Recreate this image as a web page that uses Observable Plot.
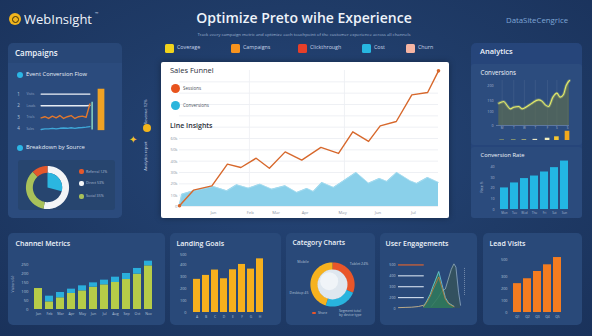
<!DOCTYPE html>
<html><head><meta charset="utf-8">
<script src="https://cdn.jsdelivr.net/npm/d3@7"></script>
<script src="https://cdn.jsdelivr.net/npm/@observablehq/plot@0.6"></script>
<style>
html,body{margin:0;padding:0;background:#1c3661;}
#app{position:relative;width:592px;height:336px;overflow:hidden;font-family:"Open Sans",sans-serif;
 background:radial-gradient(ellipse at 50% 45%,#26477b 0%,#1f3b67 55%,#1a325b 100%);}
.t{position:absolute;white-space:nowrap;line-height:1;}
</style></head><body><div id="app"></div><script>
// ================= DATA =================
const legendLabels = ["Coverage","Campaigns","Clickthrough","Cost","Churn"];
const legendColors = ["#f1d31c","#f7931e","#e63f29","#27b7e1","#f5b4a3"];

// Left: event conversion flows
const flowSteps  = [0,1,2,3,4,5,6,7,8,9,10,11,12,13];
const flowRowTicks = [4,3,2,1];
const flowRowLabels = ["1","2","3","4"];
const flowRowNames = ["Visits","Leads","Trials","Sales"];
const flowSales  = [4,4,4,4,4,4,4,4,4,4,4,4,4,4];
const flowTrials = [3,3,3,3,3,3,3,3,3,3,3,3,3,3.02];
const flowLeads  = [1.95,2.05,1.9,2.1,1.95,2.15,1.9,2.05,2.15,1.9,2.05,2.1,2.0,3.15];
const flowVisits = [0.95,1.0,1.0,1.05,1.0,1.05,1.08,1.05,1.1,1.05,1.1,1.12,1.15,1.2];
const flowSpike = {step:13.6, from:0.9, to:3.3};
const flowBar = {from:15.2, to:17, low:0.85, high:4.42};

// Left: breakdown by source
const sourceNames  = ["Direct","Social","Referral"];
const sourceShares = [53,35,12];
const sourceColors = ["#f3f5f7","#a8c15a","#e4582b"];
const sourceFocusShare = 29;

// Main chart
const sessionWeeks  = [0,5.4,12.5,18.5,23.7,29.6,34.7,40.8,47.2,54.6,61.4,66.9,73,77.5,83.7,89.7,95.8,100];
const sessionValues = [0.6,14.4,18.2,37.4,34.4,42.6,33.8,48.2,40.9,52.1,46.8,65.9,57.4,71.2,75,98.5,100.6,119.7];
const convWeeks  = [0,0.9,5.4,13.1,18.3,22.1,26.6,31.1,35.6,40.8,45.3,49.2,51.7,55,59.5,63.3,68.2,73,77.2,80.1,83.9,89.1,91.6,95.8,100];
const convValues = [2,10.9,13.8,17.6,13.8,19.1,16.2,19.7,15.3,18.2,12.4,15.9,13.2,21.2,16.8,22.6,30,20.6,24.7,22.1,30,22.6,20.3,25.6,21.2];
const mainXTicks  = [13.1,27.3,37.3,48.5,63,76.6,90.3];
const mainXLabels = ["Jan","Feb","Mar","Apr","May","Jun","Jul"];
const mainYTicks  = [0,10,20,30,40,50,60];
const mainYLabels = ["0","10k","20k","30k","40k","50k","60k"];
const mainGrid    = [0,10,20,30,40,50,60,70,80,90,100,110];
const mainVGrid   = [27,63.7];

// Right: conversions trend
const trendU = [7,22,32,42,52,67,77,92,107,127,137,147,157,170,182,192,202,210,220];
const trendV = [67,72,60,50,55,57,50,57,67,77,73,62,57,85,97,85,93,120,135];
const trendYTicks = [0,42,75,119];
const trendYLabels = ["0","100","150","200"];
const trendXTicks = [17,52,84,117,154,182,214];
const trendXLabels = ["M","T","W","T","F","S","S"];
const dayBars = [1,1,1,1.3,2.6,4.2,10.5];
const dayBarColors = ["#7d8c6c","#8c9a70","#a9ad78","#e8e6c8","#f3efc0","#f4c531","#f2a91d"];

// Right: conversion rate
const rateLabels = ["Mon","Tue","Wed","Thu","Fri","Sat","Sun"];
const rateValues = [20.3,25,29.1,31.5,35.3,39.4,45.6];
const rateTicks = [0,10,20,30,40];

// Bottom: channel metrics
const chLabels = ["Jan","Feb","Mar","Apr","May","Jun","Jul","Aug","Sep","Oct","Nov"];
const chBase = [23.3,8.5,13,17.8,20.7,24.8,27.4,30,33.3,39.3,48.5];
const chTop  = [0,6.3,5.9,4.8,5.6,4.8,5.2,5.9,6.7,6.3,5.2];
const chTicks = [0,10,20,30,40,50];
const chTickLabels = ["0","50","100","150","200","250"];

// Bottom: landing goals
const goalLabels = ["A","B","C","D","E","F","G","H"];
const goalValues = [27.8,31.1,35.6,28.3,35.8,40.3,36.4,45];
const goalTicks = [0,10,20,30,40,48];
const goalTickLabels = ["0","100","200","300","400","500"];

// Bottom: category donut
const catNames  = ["Mobile","Tablet","Desktop"];
const catShares = [31,24,45];
const catColors = ["#e9562a","#28b4de","#f6b21f"];

// Bottom: user engagements
const engLevels = [4,3,2,1];
const engLevelColors = ["#e9642c","#d5e0ee","#d5e0ee","#d5e0ee"];
const engLegendSpan = [0,39];
const engYTicks = [0,1,2,3,4];
const engYLabels = ["0","200","300","400","500"];
const engBaseT = [0,10,20,30,38];
const engBaseV = [0.08,0.1,0.12,0.18,0.3];
const engGreenT = [38,43,48,52,56,61,66,71,76,84];
const engGreenV = [0.2,0.7,1.3,2.0,2.6,3.4,2.2,1.0,0.5,0.2];
const engDarkT = [50,55,60,66,71,76,80,84,87,91,94];
const engDarkV = [0.2,0.6,1.0,1.6,1.8,2.8,3.6,4.1,3.8,1.5,0.3];
const engRightAxis = {t:100, from:1.2, to:3.7};

// Bottom: lead visits
const leadLabels = ["Q1","Q2","Q3","Q4","Q5"];
const leadValues = [24.2,28.3,34.4,40,46.1];
const leadTicks = [0,10,20,30,44];
const leadTickLabels = ["0","100","200","300","500"];

// ================= HELPERS =================
const app = document.getElementById("app");
function box(x,y,w,h,bg,r=5,extra=""){
  const d=document.createElement("div");
  d.style.cssText=`position:absolute;left:${x}px;top:${y}px;width:${w}px;height:${h}px;background:${bg};border-radius:${r}px;${extra}`;
  app.appendChild(d);return d;
}
function txt(s,x,y,size,{w=400,c="#eef3fa",anchor="start",rot=0}={}){
  const d=document.createElement("div");d.className="t";d.textContent=s;
  const tx=anchor==="middle"?"-50%":anchor==="end"?"-100%":"0";
  d.style.cssText+=`left:${x}px;top:${y}px;font-size:${size}px;font-weight:${w};color:${c};transform:translate(${tx},-50%)${rot?` rotate(${rot}deg)`:""};`;
  app.appendChild(d);return d;
}
function put(el,x,y){el.style.position="absolute";el.style.left=x+"px";el.style.top=y+"px";app.appendChild(el);}
const baseStyle=(fs,col)=>({background:"transparent",overflow:"visible",fontSize:fs+"px",color:col,fontFamily:"Open Sans"});
function arcPts(a0,a1,r0,r1){
  const pts=[],n=48;
  for(let k=0;k<=n;k++){const t=a0+(a1-a0)*k/n;pts.push({x:r1*Math.sin(t),y:r1*Math.cos(t)});}
  for(let k=n;k>=0;k--){const t=a0+(a1-a0)*k/n;pts.push({x:r0*Math.sin(t),y:r0*Math.cos(t)});}
  return pts;
}
function ringMarks(shares,colors,r0,r1){
  return d3.pie().sort(null)(shares).map((a,i)=>Plot.line(arcPts(a.startAngle,a.endAngle,r0,r1),{x:"x",y:"y",fill:colors[i],stroke:"none"}));
}

// ================= HEADER =================
box(9,13,12,12,"#f2b51c",6);
box(11.5,15.5,5,5,"transparent",4,"border:1.5px solid #3b2f0e");
txt("WebInsight",24,19,13,{w:500});
txt("™",95,12.5,4.5,{c:"#cfd8e6"});
txt("Optimize Preto wihe Experience",304,18,14,{w:600,anchor:"middle"});
txt("DataSiteCengrice",506,21,7.8,{c:"#7fa6d6"});
txt("Track every campaign metric and optimize each touchpoint of the customer experience across all channels",304,34,4.3,{c:"#9fb4d2",anchor:"middle"});
const legX=[165,231,298,362,406];
legendLabels.forEach((l,i)=>{box(legX[i],44,8.5,8.5,legendColors[i],1.5);txt(l,legX[i]+12,48.3,5.3,{c:"#c9d6ea"});});

// ================= LEFT PANEL =================
box(8,43,114,175,"#284777",5);
box(8,63,114,155,"#2b4b7d",5,"border-top-left-radius:0;border-top-right-radius:0");
txt("Campaigns",15,52.5,8,{w:600});
box(17,72,6,6,"#2bb6e6",3);
txt("Event Conversion Flow",26,75,5.8,{c:"#e6edf7",w:500});
{
  const rows=[];
  flowSteps.forEach((s,i)=>{
    rows.push({s,v:flowSales[i],k:"sales"});rows.push({s,v:flowTrials[i],k:"trials"});
    rows.push({s,v:flowLeads[i],k:"leads"});rows.push({s,v:flowVisits[i],k:"visits"});
  });
  const p=Plot.plot({width:96,height:60,marginLeft:0,marginRight:0,marginTop:1,marginBottom:1,
    x:{domain:[-7.1,18.5],axis:null},y:{domain:[0,5],axis:null},
    color:{domain:["sales","trials","leads","visits"],range:["#eef2f7","#e7ecf3","#e2772c","#3ea7d8"]},
    style:baseStyle(3.6,"#aebdd3"),
    marks:[
      Plot.text(flowRowTicks,{x:-6,y:d=>d,text:(d,i)=>flowRowLabels[i],fill:"#b9c7db",fontSize:4.5}),
      Plot.text(flowRowTicks,{x:-3.9,y:d=>d,text:(d,i)=>flowRowNames[i],textAnchor:"start",fill:"#8fa3c2",fontSize:3.2}),
      Plot.line(rows,{x:"s",y:"v",stroke:"k",z:"k",strokeWidth:1.4}),
      Plot.ruleX([flowSpike],{x:"step",y1:"from",y2:"to",stroke:"#8fe0c8",strokeWidth:1.4}),
      Plot.rect([flowBar],{x1:"from",x2:"to",y1:"low",y2:"high",fill:"#f0a224"})
    ]});
  put(p,14,81);
}
box(18,160,97,50,"#27456f",3);
box(17,145,6,6,"#2bb6e6",3);
txt("Breakdown by Source",26,148,5.8,{c:"#e6edf7",w:500});
{
  const p=Plot.plot({width:44,height:44,margin:0,x:{domain:[-1.02,1.02],axis:null},y:{domain:[-1.02,1.02],axis:null},
    style:baseStyle(4,"#fff"),
    marks:[...ringMarks(sourceShares,sourceColors,0.68,1),
      Plot.line(arcPts(0,2*Math.PI*sourceFocusShare/100,0,0.68),{x:"x",y:"y",fill:"#2bb6e0",stroke:"none"})]});
  put(p,25,165);
  const ly=[171.7,183.3,196], order=[2,0,1];
  order.forEach((k,i)=>{box(78.5,ly[i]-2.5,5,5,sourceColors[k],2);txt(sourceNames[k]+" "+sourceShares[k]+"%",86,ly[i],3.6,{c:"#aebdd3"});});
}
txt("✦",133,139,10,{c:"#f2c12e",anchor:"middle"});
txt("Revenue 12%",146,112,4,{c:"#c8d4e6",anchor:"middle",rot:-90});
box(142.7,124.3,8,8,"#f2b51c",4);
txt("Analytics report",146,156,4,{c:"#c8d4e6",anchor:"middle",rot:-90});

// ================= MAIN CHART =================
box(161,62,288,156,"#ffffff",2,"box-shadow:0 0 6px rgba(0,0,0,.35)");
{
  const sess=sessionWeeks.map((w,i)=>({w,v:sessionValues[i]}));
  const conv=convWeeks.map((w,i)=>({w,v:convValues[i]}));
  const p=Plot.plot({width:288,height:156,marginLeft:18,marginRight:11,marginTop:8,marginBottom:12,
    x:{domain:[0,100],axis:null},y:{domain:[0,120],axis:null},
    style:baseStyle(4.2,"#8a94a3"),
    marks:[
      Plot.gridY(mainGrid,{stroke:"#e6eaef",strokeOpacity:1,strokeWidth:0.7}),
      Plot.ruleX(mainVGrid,{stroke:"#eceff3",strokeWidth:0.8}),
      Plot.areaY(conv,{x:"w",y:"v",fill:"#84cde9",fillOpacity:0.95}),
      Plot.line(conv,{x:"w",y:"v",stroke:"#a9ddf0",strokeWidth:0.8}),
      Plot.line(sess,{x:"w",y:"v",stroke:"#d7682c",strokeWidth:1.4}),
      Plot.dot([sess[0],sess[sess.length-1]],{x:"w",y:"v",r:1.8,fill:"#d7682c"}),
      Plot.axisY({ticks:mainYTicks,tickFormat:d=>mainYLabels[mainYTicks.indexOf(d)],tickSize:0,tickPadding:2,label:null}),
      Plot.axisX({ticks:mainXTicks,tickFormat:d=>mainXLabels[mainXTicks.indexOf(d)],tickSize:0,tickPadding:5,label:null})
    ]});
  put(p,161,62);
}
txt("Sales Funnel",170,71,7.5,{c:"#2b303b",w:500});
box(171,84,8.5,8.5,"#e8541e",5);
txt("Sessions",183,88.3,4.5,{c:"#4a5260"});
box(170.5,100.5,9,9,"#2bb5dc",5);
txt("Conversions",183,105,4.5,{c:"#4a5260"});
txt("Line Insights",170,125,7,{c:"#2b303b",w:600});

// ================= RIGHT PANEL =================
box(471,43,111,175,"#26457a",5);
box(471,63.5,111,81.5,"#2c4c7e",3);
box(471,147,111,71,"#2b4b7d",3);
txt("Analytics",480,52,7.5,{w:600});
txt("Conversions",480.5,73,6.2,{w:500});
{
  const d=trendU.map((u,i)=>({u,v:trendV[i]}));
  const p=Plot.plot({width:92,height:56,marginLeft:14,marginRight:5,marginTop:2,marginBottom:9,
    x:{domain:[0,220],axis:null},y:{domain:[0,135],axis:null},style:baseStyle(3.6,"#a8b8d0"),
    marks:[
      Plot.ruleX(trendXTicks,{stroke:"#ffffff",strokeOpacity:0.07}),
      Plot.areaY(d,{x:"u",y:"v",fill:"#5f6f4e",fillOpacity:0.65,curve:"monotone-x"}),
      Plot.line(d,{x:"u",y:"v",stroke:"#e8ef7a",strokeWidth:3,strokeOpacity:0.25,curve:"monotone-x"}),
      Plot.line(d,{x:"u",y:"v",stroke:"#e2ea6a",strokeWidth:1.1,curve:"monotone-x"}),
      Plot.ruleY([0],{stroke:"#8fa3c2",strokeOpacity:0.5}),
      Plot.axisY({ticks:trendYTicks,tickFormat:v=>trendYLabels[trendYTicks.indexOf(v)],tickSize:0,tickPadding:3,label:null}),
      Plot.axisX({ticks:trendXTicks,tickFormat:v=>trendXLabels[trendXTicks.indexOf(v)],tickSize:0,tickPadding:1.5,fontSize:3,label:null})
    ]});
  put(p,482,78);
  const b=trendXTicks.map((u,i)=>({u,v:dayBars[i],c:dayBarColors[i]}));
  const p2=Plot.plot({width:92,height:15,marginLeft:14,marginRight:5,marginTop:3,marginBottom:1,
    x:{domain:[0,220],axis:null},y:{domain:[0,12.5],axis:null},style:baseStyle(4,"#fff"),
    marks:[Plot.rectY(b,{x1:d=>d.u-7,x2:d=>d.u+7,y:"v",fill:d=>d.c})]});
  put(p2,482,126);
}
txt("Conversion Rate",480.5,155.5,5.8,{w:500});
{
  const d=rateLabels.map((l,i)=>({l,v:rateValues[i]}));
  const p=Plot.plot({width:92,height:58,marginLeft:15,marginRight:4,marginTop:0,marginBottom:7,
    x:{domain:rateLabels,padding:0.23,axis:null},y:{domain:[0,48],axis:null},style:baseStyle(3.6,"#a8b8d0"),
    marks:[
      Plot.barY(d,{x:"l",y:"v",fill:"#23b6e3"}),
      Plot.axisY({ticks:rateTicks,tickSize:0,tickPadding:3,label:null}),
      Plot.axisX({tickSize:0,tickPadding:2,fontSize:3,label:null})
    ]});
  put(p,482,158);
}
txt("Rate %",481.5,187,3.5,{c:"#a8b8d0",anchor:"middle",rot:-90});

// ================= BOTTOM ROW =================
box(8,233,157,92,"#294979",5);
box(170,233,111,92,"#294979",5);
box(286,233,89,92,"#294979",5);
box(380,233,97,92,"#294979",5);
box(483,233,99,92,"#294979",5);

txt("Channel Metrics",15.5,242.5,7,{w:600});
{
  const d=[];chLabels.forEach((l,i)=>{d.push({l,p:"base",v:chBase[i]});d.push({l,p:"top",v:chTop[i]});});
  const p=Plot.plot({width:150,height:70,marginLeft:19,marginRight:7,marginTop:0,marginBottom:16,
    x:{domain:chLabels,padding:0.26,axis:null},y:{domain:[0,60],axis:null},
    color:{domain:["base","top"],range:["#b6cc48","#2aaedb"]},style:baseStyle(4.2,"#b4c3d8"),
    marks:[
      Plot.barY(d,{x:"l",y:"v",fill:"p"}),
      Plot.axisY({ticks:chTicks,tickFormat:v=>chTickLabels[chTicks.indexOf(v)],tickSize:0,tickPadding:3,label:null}),
      Plot.axisX({tickSize:0,tickPadding:3,fontSize:3.6,label:null})
    ]});
  put(p,12,255);
}
txt("Visitors (k)",12.5,284,3.5,{c:"#a8b8d0",anchor:"middle",rot:-90});

txt("Landing Goals",176.5,242.5,7,{w:600});
{
  const d=goalLabels.map((l,i)=>({l,v:goalValues[i]}));
  const p=Plot.plot({width:104,height:75,marginLeft:17,marginRight:8,marginTop:0,marginBottom:13,
    x:{domain:goalLabels,padding:0.2,axis:null},y:{domain:[0,52],axis:null},style:baseStyle(3.8,"#b4c3d8"),
    marks:[
      Plot.barY(d,{x:"l",y:"v",fill:"#f6b01d"}),
      Plot.axisY({ticks:goalTicks,tickFormat:v=>goalTickLabels[goalTicks.indexOf(v)],tickSize:0,tickPadding:3,label:null}),
      Plot.axisX({tickSize:0,tickPadding:3,fontSize:3.4,label:null})
    ]});
  put(p,172,250);
}

txt("Category Charts",292.5,242.5,6.8,{w:600});
{
  const p=Plot.plot({width:46,height:46,margin:0,x:{domain:[-1.04,1.04],axis:null},y:{domain:[-1.04,1.04],axis:null},
    style:baseStyle(4,"#fff"),
    marks:[...ringMarks(catShares,catColors,0.66,1),
      Plot.dot([{x:0,y:0}],{x:"x",y:"y",r:15,fill:"#dfe7ef"}),
      Plot.dot([{x:-0.15,y:0.15}],{x:"x",y:"y",r:9,fill:"#f4f7fa",fillOpacity:0.8})]});
  put(p,309,261);
}
txt(catNames[0],303,262,3.6,{c:"#b4c3d8",anchor:"middle"});
txt(catNames[1]+" 24%",359,264,3.6,{c:"#b4c3d8",anchor:"middle"});
txt(catNames[2]+" 45",299,293,3.6,{c:"#b4c3d8",anchor:"middle"});
box(312,312,4,2,"#e9562a",1);
txt("Share",318,312.5,3.4,{c:"#b4c3d8"});
txt("Segment total",339,311,3.4,{c:"#b4c3d8"});
txt("by device type",339,315,3.4,{c:"#b4c3d8"});

txt("User Engagements",385.5,242.5,7,{w:600});
{
  const legend=engLevels.map((v,i)=>({v,c:engLevelColors[i]}));
  const base=engBaseT.map((t,i)=>({t,v:engBaseV[i]}));
  const green=engGreenT.map((t,i)=>({t,v:engGreenV[i]}));
  const dark=engDarkT.map((t,i)=>({t,v:engDarkV[i]}));
  const p=Plot.plot({width:86,height:56,marginLeft:14,marginRight:6,marginTop:1,marginBottom:6,
    x:{domain:[0,100],axis:null},y:{domain:[0,4.5],axis:null},style:baseStyle(3.6,"#b4c3d8"),
    marks:[
      Plot.ruleY(legend,{y:"v",x1:engLegendSpan[0],x2:engLegendSpan[1],stroke:"c",strokeWidth:1.1}),
      Plot.line(base,{x:"t",y:"v",stroke:"#c9b48a",strokeWidth:0.9}),
      Plot.areaY(dark,{x:"t",y:"v",fill:"#34525e",fillOpacity:0.95}),
      Plot.line(dark,{x:"t",y:"v",stroke:"#9fb7c8",strokeWidth:0.7}),
      Plot.areaY(green,{x:"t",y:"v",fill:"#2f7a5c",fillOpacity:0.85}),
      Plot.line(green,{x:"t",y:"v",stroke:"#6fd0e0",strokeWidth:0.8}),
      Plot.line(green,{x:"t",y:d=>d.v*0.85,stroke:"#d77a3a",strokeWidth:0.7}),
      Plot.ruleX([engRightAxis],{x:"t",y1:"from",y2:"to",stroke:"#a8b8d0",strokeWidth:0.6,strokeDasharray:"1,1"}),
      Plot.axisY({ticks:engYTicks,tickFormat:v=>engYLabels[engYTicks.indexOf(v)],tickSize:0,tickPadding:3,label:null})
    ]});
  put(p,384,258);
}

txt("Lead Visits",489.5,242.5,7,{w:600});
{
  const d=leadLabels.map((l,i)=>({l,v:leadValues[i]}));
  const p=Plot.plot({width:86,height:75,marginLeft:21,marginRight:13,marginTop:0,marginBottom:13,
    x:{domain:leadLabels,padding:0.2,axis:null},y:{domain:[0,52],axis:null},style:baseStyle(3.8,"#b4c3d8"),
    marks:[
      Plot.barY(d,{x:"l",y:"v",fill:"#f47c20"}),
      Plot.axisY({ticks:leadTicks,tickFormat:v=>leadTickLabels[leadTicks.indexOf(v)],tickSize:0,tickPadding:4,label:null}),
      Plot.axisX({tickSize:0,tickPadding:3,fontSize:3.4,label:null})
    ]});
  put(p,490,250);
}
</script></body></html>
